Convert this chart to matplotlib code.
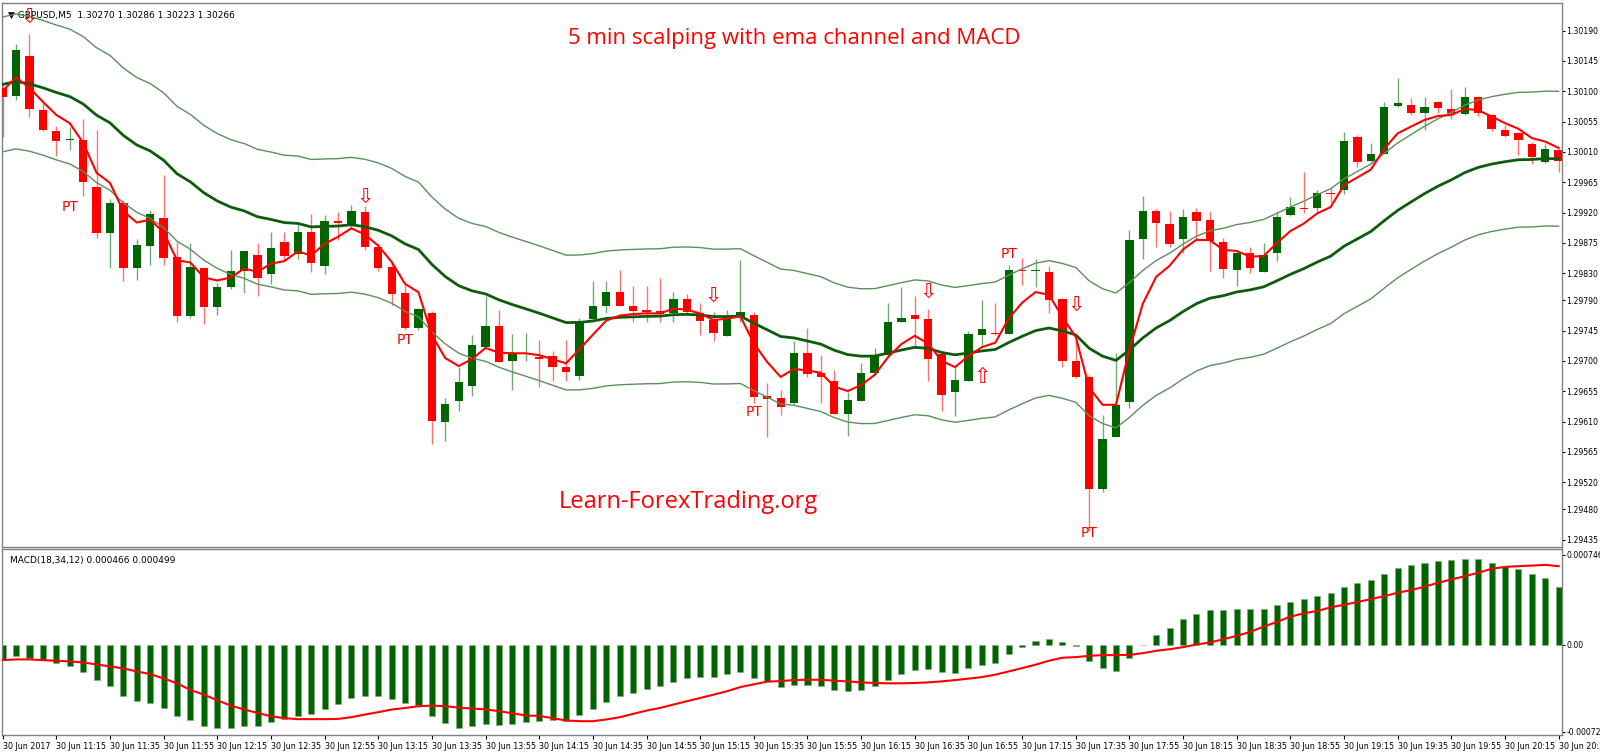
import matplotlib
matplotlib.use("Agg")
import matplotlib.pyplot as plt
import numpy as np

# OHLC, GBPUSD M5, 30 Jun 2017 10:55 .. 20:35
opens = [1.30105, 1.30093, 1.30153, 1.30072, 1.30041, 1.30028, 1.30028, 1.29958, 1.29890, 1.29934,
         1.29838, 1.29870, 1.29912, 1.29854, 1.29767, 1.29838, 1.29780, 1.29810, 1.29833, 1.29857,
         1.29829, 1.29877, 1.29859, 1.29891, 1.29841, 1.29907, 1.29903, 1.29921, 1.29869, 1.29839,
         1.29801, 1.29749, 1.29771, 1.29609, 1.29641, 1.29663, 1.29721, 1.29752, 1.29700, 1.29710,
         1.29706, 1.29707, 1.29691, 1.29678, 1.29762, 1.29782, 1.29802, 1.29782, 1.29776, 1.29774,
         1.29771, 1.29792, 1.29771, 1.29761, 1.29737, 1.29765, 1.29768, 1.29648, 1.29645, 1.29637,
         1.29712, 1.29682, 1.29670, 1.29621, 1.29641, 1.29682, 1.29709, 1.29758, 1.29768, 1.29762,
         1.29710, 1.29654, 1.29670, 1.29739, 1.29742, 1.29740, 1.29834, 1.29833, 1.29832, 1.29792,
         1.29700, 1.29676, 1.29510, 1.29587, 1.29639, 1.29881, 1.29922, 1.29903, 1.29881, 1.29921,
         1.29909, 1.29876, 1.29835, 1.29860, 1.29832, 1.29860, 1.29916, 1.29927, 1.29927, 1.29949,
         1.29954, 1.30032, 1.29997, 1.30007, 1.30078, 1.30080, 1.30068, 1.30084, 1.30074, 1.30066,
         1.30092, 1.30065, 1.30043, 1.30038, 1.30022, 1.29995, 1.30013]
highs = [1.30110, 1.30170, 1.30185, 1.30083, 1.30049, 1.30047, 1.30059, 1.30043, 1.29940, 1.29939,
         1.29881, 1.29924, 1.29976, 1.29876, 1.29875, 1.29839, 1.29816, 1.29865, 1.29865, 1.29875,
         1.29891, 1.29891, 1.29902, 1.29918, 1.29917, 1.29921, 1.29931, 1.29930, 1.29874, 1.29847,
         1.29816, 1.29779, 1.29774, 1.29645, 1.29691, 1.29739, 1.29796, 1.29776, 1.29740, 1.29741,
         1.29731, 1.29715, 1.29731, 1.29764, 1.29819, 1.29819, 1.29835, 1.29811, 1.29811, 1.29823,
         1.29802, 1.29799, 1.29786, 1.29773, 1.29776, 1.29850, 1.29773, 1.29667, 1.29657, 1.29730,
         1.29749, 1.29709, 1.29687, 1.29654, 1.29697, 1.29719, 1.29786, 1.29810, 1.29796, 1.29777,
         1.29712, 1.29691, 1.29744, 1.29790, 1.29786, 1.29842, 1.29853, 1.29851, 1.29841, 1.29793,
         1.29731, 1.29679, 1.29620, 1.29712, 1.29894, 1.29945, 1.29925, 1.29922, 1.29925, 1.29927,
         1.29922, 1.29882, 1.29863, 1.29869, 1.29875, 1.29922, 1.29943, 1.29980, 1.29954, 1.29957,
         1.30040, 1.30035, 1.30023, 1.30084, 1.30120, 1.30090, 1.30092, 1.30086, 1.30104, 1.30107,
         1.30093, 1.30066, 1.30050, 1.30040, 1.30025, 1.30022, 1.30016]
lows = [1.30032, 1.30087, 1.30062, 1.30041, 1.30004, 1.30013, 1.29945, 1.29883, 1.29838, 1.29819,
        1.29820, 1.29842, 1.29842, 1.29758, 1.29763, 1.29755, 1.29768, 1.29807, 1.29801, 1.29796,
        1.29814, 1.29850, 1.29851, 1.29832, 1.29829, 1.29879, 1.29896, 1.29865, 1.29833, 1.29783,
        1.29746, 1.29746, 1.29577, 1.29581, 1.29626, 1.29648, 1.29721, 1.29698, 1.29657, 1.29700,
        1.29661, 1.29670, 1.29670, 1.29672, 1.29762, 1.29771, 1.29781, 1.29758, 1.29758, 1.29758,
        1.29758, 1.29770, 1.29739, 1.29730, 1.29737, 1.29758, 1.29637, 1.29587, 1.29620, 1.29636,
        1.29676, 1.29637, 1.29621, 1.29589, 1.29641, 1.29679, 1.29704, 1.29758, 1.29719, 1.29670,
        1.29626, 1.29618, 1.29670, 1.29721, 1.29739, 1.29740, 1.29813, 1.29810, 1.29771, 1.29691,
        1.29675, 1.29449, 1.29505, 1.29587, 1.29630, 1.29851, 1.29869, 1.29869, 1.29860, 1.29881,
        1.29833, 1.29823, 1.29811, 1.29830, 1.29832, 1.29848, 1.29915, 1.29920, 1.29920, 1.29934,
        1.29948, 1.29988, 1.29995, 1.30007, 1.30077, 1.30065, 1.30043, 1.30068, 1.30059, 1.30065,
        1.30064, 1.30041, 1.30032, 1.30006, 1.29992, 1.29994, 1.29980]
closes = [1.30092, 1.30161, 1.30074, 1.30043, 1.30026, 1.30028, 1.29966, 1.29890, 1.29934, 1.29838,
          1.29872, 1.29918, 1.29853, 1.29767, 1.29839, 1.29780, 1.29810, 1.29833, 1.29863, 1.29823,
          1.29868, 1.29856, 1.29891, 1.29845, 1.29908, 1.29905, 1.29922, 1.29869, 1.29838, 1.29799,
          1.29749, 1.29777, 1.29611, 1.29636, 1.29669, 1.29724, 1.29752, 1.29698, 1.29710, 1.29711,
          1.29703, 1.29691, 1.29684, 1.29759, 1.29782, 1.29802, 1.29782, 1.29774, 1.29773, 1.29770,
          1.29792, 1.29773, 1.29759, 1.29741, 1.29767, 1.29773, 1.29646, 1.29643, 1.29632, 1.29712,
          1.29681, 1.29676, 1.29621, 1.29642, 1.29682, 1.29709, 1.29758, 1.29764, 1.29762, 1.29703,
          1.29649, 1.29672, 1.29740, 1.29747, 1.29740, 1.29835, 1.29833, 1.29834, 1.29790, 1.29700,
          1.29676, 1.29510, 1.29584, 1.29635, 1.29879, 1.29922, 1.29905, 1.29874, 1.29914, 1.29908,
          1.29878, 1.29836, 1.29860, 1.29838, 1.29857, 1.29914, 1.29928, 1.29926, 1.29949, 1.29947,
          1.30026, 1.29995, 1.30007, 1.30077, 1.30083, 1.30068, 1.30077, 1.30075, 1.30068, 1.30092,
          1.30068, 1.30044, 1.30033, 1.30028, 1.30003, 1.30015, 1.29997]

# MACD(18,34,12) histogram and signal line, in units of 1e-6
macd_main = [-127, -94, -110, -127, -157, -180, -227, -298, -343, -425,
             -472, -486, -528, -599, -627, -674, -691, -691, -674, -674,
             -646, -619, -591, -577, -536, -494, -445, -431, -431, -453,
             -486, -503, -591, -652, -691, -682, -663, -669, -663, -646,
             -638, -624, -638, -583, -536, -475, -431, -400, -367, -345,
             -312, -282, -271, -268, -249, -227, -276, -307, -351, -340,
             -340, -348, -376, -387, -376, -345, -298, -249, -215, -207,
             -227, -235, -199, -171, -152, -80, -17, 28, 47, 20,
             -11, -135, -193, -221, -116, -6, 83, 138, 210, 257,
             285, 285, 293, 293, 293, 326, 354, 376, 403, 425,
             481, 508, 539, 591, 633, 660, 682, 696, 702, 710,
             710, 682, 652, 627, 583, 550, 480]
macd_signal = [-130, -124, -124, -130, -135, -141, -149, -166, -182, -199,
               -224, -246, -282, -323, -378, -417, -464, -508, -541, -569,
               -597, -613, -621, -621, -621, -619, -605, -583, -563, -541,
               -528, -514, -508, -514, -525, -533, -539, -555, -572, -591,
               -594, -613, -632, -638, -638, -624, -605, -577, -550, -528,
               -500, -472, -445, -417, -389, -354, -331, -309, -304, -296,
               -293, -293, -301, -307, -315, -320, -323, -323, -320, -315,
               -307, -296, -284, -271, -251, -224, -196, -168, -135, -110,
               -105, -94, -88, -88, -86, -72, -52, -39, -22, 0,
               17, 44, 72, 105, 149, 188, 232, 260, 279, 309,
               331, 354, 378, 403, 431, 453, 481, 514, 541, 569,
               597, 630, 646, 652, 657, 663, 652]

price_ticks = [1.30190, 1.30145, 1.30100, 1.30055, 1.30010, 1.29965, 1.29920, 1.29875, 1.29830,
               1.29790, 1.29745, 1.29700, 1.29655, 1.29610, 1.29565, 1.29520, 1.29480, 1.29435]
time_labels = ["30 Jun 2017", "30 Jun 11:15", "30 Jun 11:35", "30 Jun 11:55", "30 Jun 12:15",
               "30 Jun 12:35", "30 Jun 12:55", "30 Jun 13:15", "30 Jun 13:35", "30 Jun 13:55",
               "30 Jun 14:15", "30 Jun 14:35", "30 Jun 14:55", "30 Jun 15:15", "30 Jun 15:35",
               "30 Jun 15:55", "30 Jun 16:15", "30 Jun 16:35", "30 Jun 16:55", "30 Jun 17:15",
               "30 Jun 17:35", "30 Jun 17:55", "30 Jun 18:15", "30 Jun 18:35", "30 Jun 18:55",
               "30 Jun 19:15", "30 Jun 19:35", "30 Jun 19:55", "30 Jun 20:15", "30 Jun 20:35"]

# signal markers: (candle index, price)
down_arrows = [(2, 1.30210), (27, 1.29943), (53, 1.29796), (69, 1.29802), (80, 1.29783)]
up_arrows = [(73, 1.29676)]
pt_labels = [(5, 1.29928), (30, 1.29731), (56, 1.29624), (75, 1.29859), (81, 1.29445)]

GREEN = "#006400"
RED = "#ff0000"


def ema(values, period, seed):
    k = 2.0 / (period + 1)
    out = []
    prev = seed
    for v in values:
        prev = prev + k * (v - prev)
        out.append(prev)
    return np.array(out)


n = len(closes)
x = np.arange(n)
o, h, l, c = (np.array(a) for a in (opens, highs, lows, closes))

fig = plt.figure(figsize=(16, 7.53), dpi=100)
ax = fig.add_axes([2 / 1600, 1 - 547 / 753, 1560 / 1600, 544 / 753])
mx = fig.add_axes([2 / 1600, 1 - 735 / 753, 1560 / 1600, 186 / 753])

# candles
for i in range(n):
    col = GREEN if c[i] >= o[i] else RED
    ax.vlines(x[i], l[i], h[i], color=col, lw=1, alpha=0.55, zorder=2)
    body = max(abs(c[i] - o[i]), 0.000012)
    ax.bar(x[i], body, bottom=min(o[i], c[i]), width=0.62, color=col, zorder=3, linewidth=0)

# ema channel
mid = ema(c, 22, 1.30112)
fast = ema(c, 5, 1.30105)
ax.plot(x, mid, color="#0d5c0d", lw=2, zorder=4)
ax.plot(x, mid + 0.00100, color="#5d8f5d", lw=1, zorder=4)
ax.plot(x, mid - 0.00100, color="#5d8f5d", lw=1, zorder=4)
ax.plot(x, fast, color=RED, lw=1.5, zorder=5)

for xi, yi in down_arrows:
    ax.text(xi, yi, "\u21e9", color=RED, fontsize=15, ha="center", va="center", zorder=6)
for xi, yi in up_arrows:
    ax.text(xi, yi, "\u21e7", color=RED, fontsize=15, ha="center", va="center", zorder=6)
for xi, yi in pt_labels:
    ax.text(xi, yi, "PT", color=RED, fontsize=10, ha="center", va="center", zorder=6)

ax.text(0.004, 0.985, "\u25bc GBPUSD,M5  1.30270 1.30286 1.30223 1.30266", transform=ax.transAxes,
        fontsize=6.5, va="top", ha="left", color="black")
ax.text(0.508, 0.935, "5 min scalping with ema channel and MACD", transform=ax.transAxes,
        fontsize=16, color=RED, ha="center", va="center", family="Open Sans")
ax.text(0.44, 0.083, "Learn-ForexTrading.org", transform=ax.transAxes,
        fontsize=17, color=RED, ha="center", va="center", family="Open Sans")

ax.set_xlim(-0.05, 116.25)
ax.set_ylim(1.29424, 1.30231)
ax.yaxis.tick_right()
ax.set_yticks(price_ticks)
ax.set_yticklabels(["%.5f" % p for p in price_ticks], fontsize=5.6)
ax.set_xticks([])
ax.tick_params(axis="y", length=2, pad=1)

# MACD panel
hist = np.array(macd_main) * 1e-6
sig = np.array(macd_signal) * 1e-6
mx.bar(x, hist, width=0.45, color=GREEN, edgecolor="#7fa87f", linewidth=0.4, zorder=2)
mx.plot(x, sig, color=RED, lw=1.5, zorder=3)
mx.set_xlim(-0.05, 116.25)
mx.set_ylim(-0.000753, 0.000795)
mx.yaxis.tick_right()
mx.set_yticks([0.000746, 0.0, -0.000724])
mx.set_yticklabels(["0.000746", "0.00", "-0.000724"], fontsize=5.6)
mx.tick_params(axis="y", length=2, pad=1)
tick_pos = np.arange(0, n, 4)[:len(time_labels)]
mx.set_xticks(tick_pos)
mx.set_xticklabels(time_labels, fontsize=5.8, ha="left")
mx.tick_params(axis="x", length=3, pad=2)
mx.text(0.005, 0.96, "MACD(18,34,12) 0.000466 0.000499", transform=mx.transAxes,
        fontsize=6.5, va="top", ha="left")

for a in (ax, mx):
    for s in a.spines.values():
        s.set_color("#808080")
        s.set_linewidth(1)

fig.savefig("out.png", dpi=100)
